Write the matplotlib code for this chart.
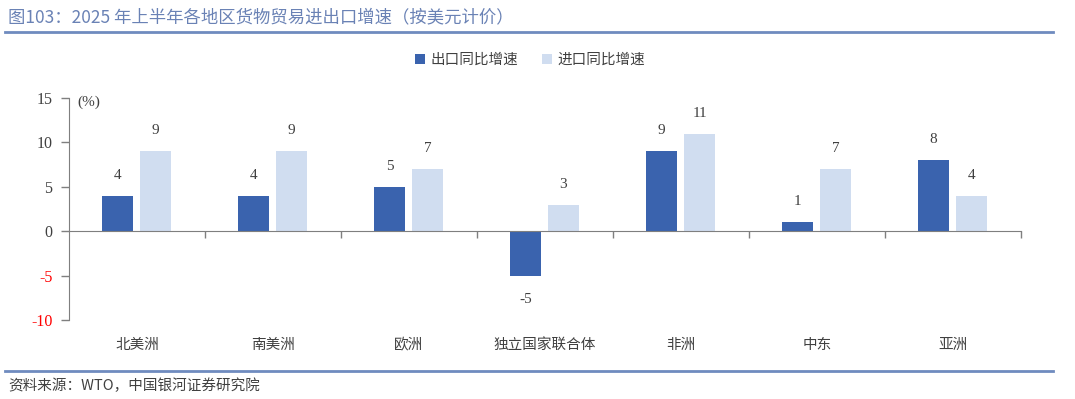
import matplotlib.pyplot as plt
import numpy as np

plt.rcParams['font.family'] = ['Liberation Serif', 'Noto Sans CJK SC', 'DejaVu Sans']

regions = ['北美洲', '南美洲', '欧洲', '独立国家联合体', '非洲', '中东', '亚洲']
exports = [4, 4, 5, -5, 9, 1, 8]
imports = [9, 9, 7, 3, 11, 7, 4]

c_exp = '#3a63ae'
c_imp = '#d0ddf0'
grey = '#7f7f7f'
txt = '#404040'
cjk = ['Noto Sans CJK SC', 'DejaVu Sans']

fig = plt.figure(figsize=(10.75, 3.99), dpi=100)
ax = fig.add_axes([69 / 1075, 1 - 320 / 399, 952 / 1075, 222 / 399])

x = np.arange(len(regions))
w = 0.23
ax.bar(x - 0.143, exports, w, color=c_exp, label='出口同比增速')
ax.bar(x + 0.136, imports, w, color=c_imp, label='进口同比增速')

# value labels
for off, vals in [(-0.143, exports), (0.136, imports)]:
    for xi, v in zip(x, vals):
        ax.text(xi + off, v + 2.3 if v >= 0 else v - 2.7, str(v), ha='center', va='center',
                fontsize=11, color=txt)

ax.set_xlim(-0.5, len(regions) - 0.5)
ax.set_ylim(-10, 15)
ax.set_yticks([-10, -5, 0, 5, 10, 15])
ax.set_yticklabels(['-10', '-5', '0', '5', '10', '15'], fontsize=11.5)
for lab in ax.get_yticklabels():
    lab.set_color('red' if lab.get_text().startswith('-') else txt)
ax.tick_params(axis='y', color=grey, length=6, width=1, pad=6)

ax.spines['bottom'].set_position(('data', 0))
for s in ['top', 'right']:
    ax.spines[s].set_visible(False)
ax.spines['left'].set_color(grey)
ax.spines['bottom'].set_color(grey)

ax.set_xticks(np.arange(0.5, len(regions), 1))
ax.set_xticklabels([])
ax.tick_params(axis='x', color=grey, length=5, width=1, direction='out')
for xi, r in zip(x, regions):
    ax.text(xi, -12.8, r, ha='center', va='center', fontsize=10.5, color=txt,
            family=cjk)

ax.text(-0.44, 14.5, '(%)', ha='left', va='center', fontsize=11, color=txt)

leg = fig.legend(loc='center', bbox_to_anchor=(530 / 1075, 1 - 60 / 399), ncol=2,
                 frameon=False, prop={'family': cjk, 'size': 10.5},
                 handlelength=0.7, handleheight=0.7, columnspacing=1.6, handletextpad=0.4)
for t in leg.get_texts():
    t.set_color(txt)

fig.text(8 / 1075, 1 - 17 / 399, '图103：2025 年上半年各地区货物贸易进出口增速（按美元计价）',
         ha='left', va='center', fontsize=12.5, color='#6a82b5', family=cjk)
fig.add_artist(plt.Line2D([5 / 1075, 1053 / 1075], [1 - 32 / 399] * 2, color='#6f8bbf', lw=2))
fig.add_artist(plt.Line2D([5 / 1075, 1053 / 1075], [1 - 371 / 399] * 2, color='#6f8bbf', lw=2))
fig.text(8 / 1075, 1 - 386 / 399, '资料来源：WTO，中国银河证券研究院', ha='left', va='center',
         fontsize=10.5, color=txt, family=cjk, style='italic')

fig.savefig('out.png', dpi=100)
